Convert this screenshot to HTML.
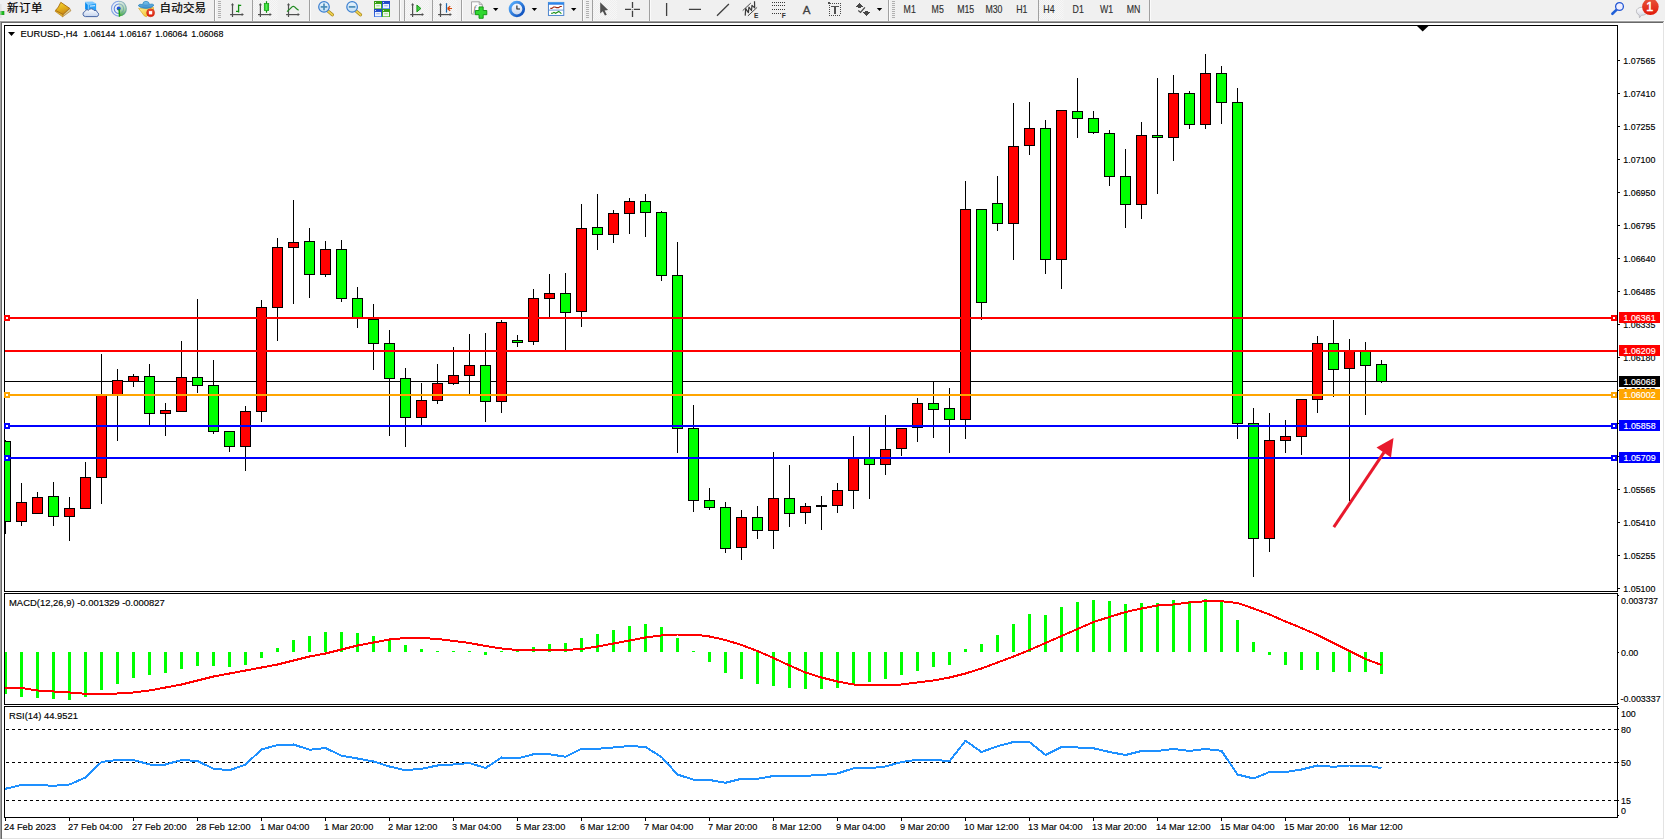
<!DOCTYPE html>
<html lang="zh"><head><meta charset="utf-8"><title>EURUSD H4</title>
<style>
html,body{margin:0;padding:0;background:#fff;}
body{width:1665px;height:840px;overflow:hidden;position:relative;font-family:"Liberation Sans","Noto Sans CJK SC",sans-serif;}
svg{position:absolute;left:0;top:0;display:block}
.t{font-family:"Liberation Sans","Noto Sans CJK SC",sans-serif;font-size:9.8px;fill:#000;stroke:#000;stroke-width:0.15px}
.cj{font-family:"Liberation Sans","Noto Sans CJK SC",sans-serif;font-size:12px;fill:#000}
.tf{font-family:"Liberation Sans","Noto Sans CJK SC",sans-serif;font-size:10px;fill:#3c3c3c}
</style></head><body>
<svg width="1665" height="840" viewBox="0 0 1665 840">

<rect x="0" y="0" width="1665" height="840" fill="#fff"/>
<rect x="0" y="0" width="1665" height="20" fill="#f0f0f0"/>
<rect x="0" y="20" width="1665" height="1" fill="#f8f8f8"/>
<rect x="0" y="21" width="1665" height="1" fill="#a0a0a0"/>
<rect x="0" y="22" width="1665" height="1" fill="#696969"/>
<rect x="0" y="21" width="1" height="819" fill="#a0a0a0"/>
<rect x="1" y="22" width="1" height="818" fill="#696969"/>
<rect x="1663" y="22" width="1" height="818" fill="#e3e3e3"/>
<rect x="1664" y="21" width="1" height="819" fill="#ffffff"/>
<rect x="2" y="838" width="1662" height="1" fill="#e3e3e3"/>
<rect x="0" y="839" width="1665" height="1" fill="#ffffff"/>
<g shape-rendering="crispEdges">
<rect x="4" y="25" width="1614" height="1" fill="#000"/>
<rect x="4" y="25" width="1" height="793" fill="#000"/>
<rect x="1617" y="25" width="1" height="793" fill="#000"/>
<rect x="4" y="591" width="1614" height="1" fill="#000"/>
<rect x="4" y="593" width="1614" height="1" fill="#000"/>
<rect x="4" y="704" width="1614" height="1" fill="#000"/>
<rect x="4" y="706" width="1614" height="1" fill="#000"/>
<rect x="4" y="817" width="1614" height="1" fill="#000"/>
<rect x="4" y="592" width="1" height="1" fill="#fff"/>
<rect x="4" y="705" width="1" height="1" fill="#fff"/>
<rect x="1617" y="592" width="1" height="1" fill="#fff"/>
<rect x="1617" y="705" width="1" height="1" fill="#fff"/>
<rect x="1618" y="595" width="1" height="1" fill="#000"/>
<rect x="1618" y="652" width="1" height="1" fill="#000"/>
<rect x="1618" y="703" width="1" height="1" fill="#000"/>
<rect x="1618" y="708" width="1" height="1" fill="#000"/>
<rect x="1618" y="729" width="1" height="1" fill="#000"/>
<rect x="1618" y="762" width="1" height="1" fill="#000"/>
<rect x="1618" y="800" width="1" height="1" fill="#000"/>
<rect x="1618" y="815" width="1" height="1" fill="#000"/>
<rect x="5" y="381" width="1612" height="1" fill="#000"/>
<clipPath id="cp"><rect x="5" y="26" width="1612" height="565"/></clipPath><g clip-path="url(#cp)">
<rect x="5" y="440" width="1" height="94" fill="#000"/>
<rect x="0" y="441" width="11" height="81" fill="#000"/>
<rect x="1" y="442" width="9" height="79" fill="#00ff00"/>
<rect x="21" y="483" width="1" height="43" fill="#000"/>
<rect x="16" y="502" width="11" height="20" fill="#000"/>
<rect x="17" y="503" width="9" height="18" fill="#ff0000"/>
<rect x="37" y="492" width="1" height="22" fill="#000"/>
<rect x="32" y="497" width="11" height="17" fill="#000"/>
<rect x="33" y="498" width="9" height="15" fill="#ff0000"/>
<rect x="53" y="482" width="1" height="44" fill="#000"/>
<rect x="48" y="496" width="11" height="21" fill="#000"/>
<rect x="49" y="497" width="9" height="19" fill="#00ff00"/>
<rect x="69" y="497" width="1" height="44" fill="#000"/>
<rect x="64" y="508" width="11" height="9" fill="#000"/>
<rect x="65" y="509" width="9" height="7" fill="#ff0000"/>
<rect x="85" y="462" width="1" height="46" fill="#000"/>
<rect x="80" y="477" width="11" height="32" fill="#000"/>
<rect x="81" y="478" width="9" height="30" fill="#ff0000"/>
<rect x="101" y="354" width="1" height="150" fill="#000"/>
<rect x="96" y="395" width="11" height="83" fill="#000"/>
<rect x="97" y="396" width="9" height="81" fill="#ff0000"/>
<rect x="117" y="369" width="1" height="72" fill="#000"/>
<rect x="112" y="380" width="11" height="15" fill="#000"/>
<rect x="113" y="381" width="9" height="13" fill="#ff0000"/>
<rect x="133" y="374" width="1" height="13" fill="#000"/>
<rect x="128" y="376" width="11" height="6" fill="#000"/>
<rect x="129" y="377" width="9" height="4" fill="#ff0000"/>
<rect x="149" y="364" width="1" height="63" fill="#000"/>
<rect x="144" y="376" width="11" height="38" fill="#000"/>
<rect x="145" y="377" width="9" height="36" fill="#00ff00"/>
<rect x="165" y="403" width="1" height="33" fill="#000"/>
<rect x="160" y="410" width="11" height="4" fill="#000"/>
<rect x="161" y="411" width="9" height="2" fill="#ff0000"/>
<rect x="181" y="341" width="1" height="70" fill="#000"/>
<rect x="176" y="377" width="11" height="35" fill="#000"/>
<rect x="177" y="378" width="9" height="33" fill="#ff0000"/>
<rect x="197" y="299" width="1" height="94" fill="#000"/>
<rect x="192" y="377" width="11" height="9" fill="#000"/>
<rect x="193" y="378" width="9" height="7" fill="#00ff00"/>
<rect x="213" y="360" width="1" height="74" fill="#000"/>
<rect x="208" y="385" width="11" height="47" fill="#000"/>
<rect x="209" y="386" width="9" height="45" fill="#00ff00"/>
<rect x="229" y="431" width="1" height="21" fill="#000"/>
<rect x="224" y="431" width="11" height="16" fill="#000"/>
<rect x="225" y="432" width="9" height="14" fill="#00ff00"/>
<rect x="245" y="406" width="1" height="65" fill="#000"/>
<rect x="240" y="411" width="11" height="36" fill="#000"/>
<rect x="241" y="412" width="9" height="34" fill="#ff0000"/>
<rect x="261" y="300" width="1" height="122" fill="#000"/>
<rect x="256" y="307" width="11" height="105" fill="#000"/>
<rect x="257" y="308" width="9" height="103" fill="#ff0000"/>
<rect x="277" y="238" width="1" height="103" fill="#000"/>
<rect x="272" y="247" width="11" height="61" fill="#000"/>
<rect x="273" y="248" width="9" height="59" fill="#ff0000"/>
<rect x="293" y="200" width="1" height="104" fill="#000"/>
<rect x="288" y="242" width="11" height="6" fill="#000"/>
<rect x="289" y="243" width="9" height="4" fill="#ff0000"/>
<rect x="309" y="228" width="1" height="70" fill="#000"/>
<rect x="304" y="241" width="11" height="34" fill="#000"/>
<rect x="305" y="242" width="9" height="32" fill="#00ff00"/>
<rect x="325" y="241" width="1" height="36" fill="#000"/>
<rect x="320" y="249" width="11" height="26" fill="#000"/>
<rect x="321" y="250" width="9" height="24" fill="#ff0000"/>
<rect x="341" y="240" width="1" height="62" fill="#000"/>
<rect x="336" y="249" width="11" height="50" fill="#000"/>
<rect x="337" y="250" width="9" height="48" fill="#00ff00"/>
<rect x="357" y="287" width="1" height="41" fill="#000"/>
<rect x="352" y="298" width="11" height="21" fill="#000"/>
<rect x="353" y="299" width="9" height="19" fill="#00ff00"/>
<rect x="373" y="304" width="1" height="66" fill="#000"/>
<rect x="368" y="319" width="11" height="25" fill="#000"/>
<rect x="369" y="320" width="9" height="23" fill="#00ff00"/>
<rect x="389" y="330" width="1" height="106" fill="#000"/>
<rect x="384" y="343" width="11" height="36" fill="#000"/>
<rect x="385" y="344" width="9" height="34" fill="#00ff00"/>
<rect x="405" y="368" width="1" height="79" fill="#000"/>
<rect x="400" y="378" width="11" height="40" fill="#000"/>
<rect x="401" y="379" width="9" height="38" fill="#00ff00"/>
<rect x="421" y="383" width="1" height="42" fill="#000"/>
<rect x="416" y="400" width="11" height="18" fill="#000"/>
<rect x="417" y="401" width="9" height="16" fill="#ff0000"/>
<rect x="437" y="364" width="1" height="40" fill="#000"/>
<rect x="432" y="383" width="11" height="18" fill="#000"/>
<rect x="433" y="384" width="9" height="16" fill="#ff0000"/>
<rect x="453" y="347" width="1" height="38" fill="#000"/>
<rect x="448" y="375" width="11" height="9" fill="#000"/>
<rect x="449" y="376" width="9" height="7" fill="#ff0000"/>
<rect x="469" y="334" width="1" height="62" fill="#000"/>
<rect x="464" y="365" width="11" height="11" fill="#000"/>
<rect x="465" y="366" width="9" height="9" fill="#ff0000"/>
<rect x="485" y="333" width="1" height="89" fill="#000"/>
<rect x="480" y="365" width="11" height="37" fill="#000"/>
<rect x="481" y="366" width="9" height="35" fill="#00ff00"/>
<rect x="501" y="320" width="1" height="93" fill="#000"/>
<rect x="496" y="322" width="11" height="80" fill="#000"/>
<rect x="497" y="323" width="9" height="78" fill="#ff0000"/>
<rect x="517" y="335" width="1" height="12" fill="#000"/>
<rect x="512" y="340" width="11" height="3" fill="#000"/>
<rect x="513" y="341" width="9" height="1" fill="#00ff00"/>
<rect x="533" y="289" width="1" height="56" fill="#000"/>
<rect x="528" y="298" width="11" height="44" fill="#000"/>
<rect x="529" y="299" width="9" height="42" fill="#ff0000"/>
<rect x="549" y="274" width="1" height="43" fill="#000"/>
<rect x="544" y="293" width="11" height="6" fill="#000"/>
<rect x="545" y="294" width="9" height="4" fill="#ff0000"/>
<rect x="565" y="273" width="1" height="77" fill="#000"/>
<rect x="560" y="293" width="11" height="20" fill="#000"/>
<rect x="561" y="294" width="9" height="18" fill="#00ff00"/>
<rect x="581" y="204" width="1" height="123" fill="#000"/>
<rect x="576" y="228" width="11" height="84" fill="#000"/>
<rect x="577" y="229" width="9" height="82" fill="#ff0000"/>
<rect x="597" y="194" width="1" height="56" fill="#000"/>
<rect x="592" y="227" width="11" height="8" fill="#000"/>
<rect x="593" y="228" width="9" height="6" fill="#00ff00"/>
<rect x="613" y="210" width="1" height="33" fill="#000"/>
<rect x="608" y="213" width="11" height="22" fill="#000"/>
<rect x="609" y="214" width="9" height="20" fill="#ff0000"/>
<rect x="629" y="198" width="1" height="36" fill="#000"/>
<rect x="624" y="201" width="11" height="13" fill="#000"/>
<rect x="625" y="202" width="9" height="11" fill="#ff0000"/>
<rect x="645" y="194" width="1" height="43" fill="#000"/>
<rect x="640" y="201" width="11" height="12" fill="#000"/>
<rect x="641" y="202" width="9" height="10" fill="#00ff00"/>
<rect x="661" y="211" width="1" height="70" fill="#000"/>
<rect x="656" y="212" width="11" height="64" fill="#000"/>
<rect x="657" y="213" width="9" height="62" fill="#00ff00"/>
<rect x="677" y="242" width="1" height="211" fill="#000"/>
<rect x="672" y="275" width="11" height="154" fill="#000"/>
<rect x="673" y="276" width="9" height="152" fill="#00ff00"/>
<rect x="693" y="405" width="1" height="107" fill="#000"/>
<rect x="688" y="428" width="11" height="73" fill="#000"/>
<rect x="689" y="429" width="9" height="71" fill="#00ff00"/>
<rect x="709" y="488" width="1" height="22" fill="#000"/>
<rect x="704" y="500" width="11" height="8" fill="#000"/>
<rect x="705" y="501" width="9" height="6" fill="#00ff00"/>
<rect x="725" y="502" width="1" height="51" fill="#000"/>
<rect x="720" y="507" width="11" height="42" fill="#000"/>
<rect x="721" y="508" width="9" height="40" fill="#00ff00"/>
<rect x="741" y="510" width="1" height="50" fill="#000"/>
<rect x="736" y="517" width="11" height="31" fill="#000"/>
<rect x="737" y="518" width="9" height="29" fill="#ff0000"/>
<rect x="757" y="506" width="1" height="33" fill="#000"/>
<rect x="752" y="517" width="11" height="14" fill="#000"/>
<rect x="753" y="518" width="9" height="12" fill="#00ff00"/>
<rect x="773" y="452" width="1" height="97" fill="#000"/>
<rect x="768" y="498" width="11" height="33" fill="#000"/>
<rect x="769" y="499" width="9" height="31" fill="#ff0000"/>
<rect x="789" y="465" width="1" height="62" fill="#000"/>
<rect x="784" y="498" width="11" height="16" fill="#000"/>
<rect x="785" y="499" width="9" height="14" fill="#00ff00"/>
<rect x="805" y="503" width="1" height="21" fill="#000"/>
<rect x="800" y="506" width="11" height="7" fill="#000"/>
<rect x="801" y="507" width="9" height="5" fill="#ff0000"/>
<rect x="821" y="496" width="1" height="34" fill="#000"/>
<rect x="816" y="505" width="11" height="2" fill="#000"/>
<rect x="837" y="483" width="1" height="30" fill="#000"/>
<rect x="832" y="490" width="11" height="16" fill="#000"/>
<rect x="833" y="491" width="9" height="14" fill="#ff0000"/>
<rect x="853" y="436" width="1" height="73" fill="#000"/>
<rect x="848" y="458" width="11" height="33" fill="#000"/>
<rect x="849" y="459" width="9" height="31" fill="#ff0000"/>
<rect x="869" y="426" width="1" height="73" fill="#000"/>
<rect x="864" y="458" width="11" height="7" fill="#000"/>
<rect x="865" y="459" width="9" height="5" fill="#00ff00"/>
<rect x="885" y="415" width="1" height="60" fill="#000"/>
<rect x="880" y="449" width="11" height="16" fill="#000"/>
<rect x="881" y="450" width="9" height="14" fill="#ff0000"/>
<rect x="901" y="428" width="1" height="28" fill="#000"/>
<rect x="896" y="428" width="11" height="21" fill="#000"/>
<rect x="897" y="429" width="9" height="19" fill="#ff0000"/>
<rect x="917" y="398" width="1" height="44" fill="#000"/>
<rect x="912" y="403" width="11" height="25" fill="#000"/>
<rect x="913" y="404" width="9" height="23" fill="#ff0000"/>
<rect x="933" y="381" width="1" height="57" fill="#000"/>
<rect x="928" y="403" width="11" height="7" fill="#000"/>
<rect x="929" y="404" width="9" height="5" fill="#00ff00"/>
<rect x="949" y="388" width="1" height="65" fill="#000"/>
<rect x="944" y="408" width="11" height="12" fill="#000"/>
<rect x="945" y="409" width="9" height="10" fill="#00ff00"/>
<rect x="965" y="181" width="1" height="258" fill="#000"/>
<rect x="960" y="209" width="11" height="211" fill="#000"/>
<rect x="961" y="210" width="9" height="209" fill="#ff0000"/>
<rect x="981" y="209" width="1" height="111" fill="#000"/>
<rect x="976" y="209" width="11" height="94" fill="#000"/>
<rect x="977" y="210" width="9" height="92" fill="#00ff00"/>
<rect x="997" y="176" width="1" height="55" fill="#000"/>
<rect x="992" y="203" width="11" height="21" fill="#000"/>
<rect x="993" y="204" width="9" height="19" fill="#00ff00"/>
<rect x="1013" y="103" width="1" height="157" fill="#000"/>
<rect x="1008" y="146" width="11" height="78" fill="#000"/>
<rect x="1009" y="147" width="9" height="76" fill="#ff0000"/>
<rect x="1029" y="102" width="1" height="53" fill="#000"/>
<rect x="1024" y="128" width="11" height="18" fill="#000"/>
<rect x="1025" y="129" width="9" height="16" fill="#ff0000"/>
<rect x="1045" y="120" width="1" height="154" fill="#000"/>
<rect x="1040" y="128" width="11" height="132" fill="#000"/>
<rect x="1041" y="129" width="9" height="130" fill="#00ff00"/>
<rect x="1061" y="110" width="1" height="179" fill="#000"/>
<rect x="1056" y="110" width="11" height="150" fill="#000"/>
<rect x="1057" y="111" width="9" height="148" fill="#ff0000"/>
<rect x="1077" y="78" width="1" height="60" fill="#000"/>
<rect x="1072" y="111" width="11" height="8" fill="#000"/>
<rect x="1073" y="112" width="9" height="6" fill="#00ff00"/>
<rect x="1093" y="111" width="1" height="23" fill="#000"/>
<rect x="1088" y="118" width="11" height="15" fill="#000"/>
<rect x="1089" y="119" width="9" height="13" fill="#00ff00"/>
<rect x="1109" y="130" width="1" height="56" fill="#000"/>
<rect x="1104" y="133" width="11" height="44" fill="#000"/>
<rect x="1105" y="134" width="9" height="42" fill="#00ff00"/>
<rect x="1125" y="149" width="1" height="79" fill="#000"/>
<rect x="1120" y="176" width="11" height="29" fill="#000"/>
<rect x="1121" y="177" width="9" height="27" fill="#00ff00"/>
<rect x="1141" y="122" width="1" height="97" fill="#000"/>
<rect x="1136" y="135" width="11" height="70" fill="#000"/>
<rect x="1137" y="136" width="9" height="68" fill="#ff0000"/>
<rect x="1157" y="78" width="1" height="116" fill="#000"/>
<rect x="1152" y="135" width="11" height="3" fill="#000"/>
<rect x="1153" y="136" width="9" height="1" fill="#00ff00"/>
<rect x="1173" y="75" width="1" height="86" fill="#000"/>
<rect x="1168" y="93" width="11" height="45" fill="#000"/>
<rect x="1169" y="94" width="9" height="43" fill="#ff0000"/>
<rect x="1189" y="91" width="1" height="38" fill="#000"/>
<rect x="1184" y="93" width="11" height="32" fill="#000"/>
<rect x="1185" y="94" width="9" height="30" fill="#00ff00"/>
<rect x="1205" y="54" width="1" height="75" fill="#000"/>
<rect x="1200" y="73" width="11" height="52" fill="#000"/>
<rect x="1201" y="74" width="9" height="50" fill="#ff0000"/>
<rect x="1221" y="66" width="1" height="58" fill="#000"/>
<rect x="1216" y="73" width="11" height="30" fill="#000"/>
<rect x="1217" y="74" width="9" height="28" fill="#00ff00"/>
<rect x="1237" y="88" width="1" height="351" fill="#000"/>
<rect x="1232" y="102" width="11" height="322" fill="#000"/>
<rect x="1233" y="103" width="9" height="320" fill="#00ff00"/>
<rect x="1253" y="408" width="1" height="169" fill="#000"/>
<rect x="1248" y="423" width="11" height="116" fill="#000"/>
<rect x="1249" y="424" width="9" height="114" fill="#00ff00"/>
<rect x="1269" y="413" width="1" height="139" fill="#000"/>
<rect x="1264" y="440" width="11" height="99" fill="#000"/>
<rect x="1265" y="441" width="9" height="97" fill="#ff0000"/>
<rect x="1285" y="420" width="1" height="33" fill="#000"/>
<rect x="1280" y="436" width="11" height="5" fill="#000"/>
<rect x="1281" y="437" width="9" height="3" fill="#ff0000"/>
<rect x="1301" y="399" width="1" height="56" fill="#000"/>
<rect x="1296" y="399" width="11" height="38" fill="#000"/>
<rect x="1297" y="400" width="9" height="36" fill="#ff0000"/>
<rect x="1317" y="336" width="1" height="77" fill="#000"/>
<rect x="1312" y="343" width="11" height="57" fill="#000"/>
<rect x="1313" y="344" width="9" height="55" fill="#ff0000"/>
<rect x="1333" y="320" width="1" height="77" fill="#000"/>
<rect x="1328" y="343" width="11" height="27" fill="#000"/>
<rect x="1329" y="344" width="9" height="25" fill="#00ff00"/>
<rect x="1349" y="339" width="1" height="162" fill="#000"/>
<rect x="1344" y="350" width="11" height="19" fill="#000"/>
<rect x="1345" y="351" width="9" height="17" fill="#ff0000"/>
<rect x="1365" y="342" width="1" height="73" fill="#000"/>
<rect x="1360" y="350" width="11" height="16" fill="#000"/>
<rect x="1361" y="351" width="9" height="14" fill="#00ff00"/>
<rect x="1381" y="360" width="1" height="23" fill="#000"/>
<rect x="1376" y="364" width="11" height="18" fill="#000"/>
<rect x="1377" y="365" width="9" height="16" fill="#00ff00"/>
</g>
<rect x="5" y="317" width="1612" height="2" fill="#ff0000"/>
<rect x="4" y="315" width="6" height="6" fill="#ff0000"/>
<rect x="6" y="317" width="2" height="2" fill="#fff"/>
<rect x="1611" y="315" width="6" height="6" fill="#ff0000"/>
<rect x="1613" y="317" width="2" height="2" fill="#fff"/>
<rect x="5" y="350" width="1612" height="2" fill="#ff0000"/>
<rect x="5" y="394" width="1612" height="2" fill="#ffa500"/>
<rect x="4" y="392" width="6" height="6" fill="#ffa500"/>
<rect x="6" y="394" width="2" height="2" fill="#fff"/>
<rect x="1611" y="392" width="6" height="6" fill="#ffa500"/>
<rect x="1613" y="394" width="2" height="2" fill="#fff"/>
<rect x="5" y="425" width="1612" height="2" fill="#0000ff"/>
<rect x="4" y="423" width="6" height="6" fill="#0000ff"/>
<rect x="6" y="425" width="2" height="2" fill="#fff"/>
<rect x="1611" y="423" width="6" height="6" fill="#0000ff"/>
<rect x="1613" y="425" width="2" height="2" fill="#fff"/>
<rect x="5" y="457" width="1612" height="2" fill="#0000ff"/>
<rect x="4" y="455" width="6" height="6" fill="#0000ff"/>
<rect x="6" y="457" width="2" height="2" fill="#fff"/>
<rect x="1611" y="455" width="6" height="6" fill="#0000ff"/>
<rect x="1613" y="457" width="2" height="2" fill="#fff"/>
</g>
<g><line x1="1333.8" y1="527.2" x2="1384" y2="452.3" stroke="#e8192c" stroke-width="3"/><polygon points="1393.5,438 1376.5,447.5 1391,457.5" fill="#e8192c"/></g>
<polygon points="1417,26 1428.5,26 1422.7,31.5" fill="#000"/>
<g shape-rendering="crispEdges">
<rect x="1618" y="60" width="2" height="1" fill="#000"/>
<rect x="1618" y="93" width="2" height="1" fill="#000"/>
<rect x="1618" y="126" width="2" height="1" fill="#000"/>
<rect x="1618" y="159" width="2" height="1" fill="#000"/>
<rect x="1618" y="192" width="2" height="1" fill="#000"/>
<rect x="1618" y="225" width="2" height="1" fill="#000"/>
<rect x="1618" y="258" width="2" height="1" fill="#000"/>
<rect x="1618" y="291" width="2" height="1" fill="#000"/>
<rect x="1618" y="324" width="2" height="1" fill="#000"/>
<rect x="1618" y="357" width="2" height="1" fill="#000"/>
<rect x="1618" y="390" width="2" height="1" fill="#000"/>
<rect x="1618" y="423" width="2" height="1" fill="#000"/>
<rect x="1618" y="456" width="2" height="1" fill="#000"/>
<rect x="1618" y="489" width="2" height="1" fill="#000"/>
<rect x="1618" y="522" width="2" height="1" fill="#000"/>
<rect x="1618" y="555" width="2" height="1" fill="#000"/>
<rect x="1618" y="588" width="2" height="1" fill="#000"/>
</g>
<text class="t" transform="translate(1623.3,63.6) scale(0.9061,1)">1.07565</text>
<text class="t" transform="translate(1623.3,96.6) scale(0.9061,1)">1.07410</text>
<text class="t" transform="translate(1623.3,129.6) scale(0.9061,1)">1.07255</text>
<text class="t" transform="translate(1623.3,162.6) scale(0.9061,1)">1.07100</text>
<text class="t" transform="translate(1623.3,195.6) scale(0.9061,1)">1.06950</text>
<text class="t" transform="translate(1623.3,228.6) scale(0.9061,1)">1.06795</text>
<text class="t" transform="translate(1623.3,261.6) scale(0.9061,1)">1.06640</text>
<text class="t" transform="translate(1623.3,294.6) scale(0.9061,1)">1.06485</text>
<text class="t" transform="translate(1623.3,327.6) scale(0.9061,1)">1.06335</text>
<text class="t" transform="translate(1623.3,360.6) scale(0.9061,1)">1.06180</text>
<text class="t" transform="translate(1623.3,393.6) scale(0.9061,1)">1.06025</text>
<text class="t" transform="translate(1623.3,426.6) scale(0.9061,1)">1.05870</text>
<text class="t" transform="translate(1623.3,459.6) scale(0.9061,1)">1.05715</text>
<text class="t" transform="translate(1623.3,492.6) scale(0.9061,1)">1.05565</text>
<text class="t" transform="translate(1623.3,525.6) scale(0.9061,1)">1.05410</text>
<text class="t" transform="translate(1623.3,558.6) scale(0.9061,1)">1.05255</text>
<text class="t" transform="translate(1623.3,591.6) scale(0.9061,1)">1.05100</text>
<rect x="1619" y="312" width="41" height="11" fill="#ff0000" shape-rendering="crispEdges"/>
<text class="t" transform="translate(1623.5,320.7) scale(0.9061,1)" style="fill:#fff;stroke:#fff">1.06361</text>
<rect x="1619" y="345" width="41" height="11" fill="#ff0000" shape-rendering="crispEdges"/>
<text class="t" transform="translate(1623.5,353.7) scale(0.9061,1)" style="fill:#fff;stroke:#fff">1.06209</text>
<rect x="1619" y="376" width="41" height="11" fill="#000000" shape-rendering="crispEdges"/>
<text class="t" transform="translate(1623.5,384.7) scale(0.9061,1)" style="fill:#fff;stroke:#fff">1.06068</text>
<rect x="1619" y="389" width="41" height="11" fill="#ffa500" shape-rendering="crispEdges"/>
<text class="t" transform="translate(1623.5,397.7) scale(0.9061,1)" style="fill:#fff;stroke:#fff">1.06002</text>
<rect x="1619" y="420" width="41" height="11" fill="#0000ff" shape-rendering="crispEdges"/>
<text class="t" transform="translate(1623.5,428.7) scale(0.9061,1)" style="fill:#fff;stroke:#fff">1.05858</text>
<rect x="1619" y="452" width="41" height="11" fill="#0000ff" shape-rendering="crispEdges"/>
<text class="t" transform="translate(1623.5,460.7) scale(0.9061,1)" style="fill:#fff;stroke:#fff">1.05709</text>
<polygon points="8,32 15,32 11.5,36" fill="#000"/>
<text class="t" transform="translate(20.5,36.8) scale(0.9551,1)">EURUSD-,H4</text>
<text class="t" transform="translate(83.3,36.8) scale(0.9061,1)">1.06144</text>
<text class="t" transform="translate(119.3,36.8) scale(0.9061,1)">1.06167</text>
<text class="t" transform="translate(155.3,36.8) scale(0.9061,1)">1.06064</text>
<text class="t" transform="translate(191.3,36.8) scale(0.9061,1)">1.06068</text>
<g shape-rendering="crispEdges">
<rect x="5" y="652" width="2" height="42" fill="#00ff00"/>
<rect x="20" y="652" width="3" height="45" fill="#00ff00"/>
<rect x="36" y="652" width="3" height="46" fill="#00ff00"/>
<rect x="52" y="652" width="3" height="47" fill="#00ff00"/>
<rect x="68" y="652" width="3" height="48" fill="#00ff00"/>
<rect x="84" y="652" width="3" height="45" fill="#00ff00"/>
<rect x="100" y="652" width="3" height="38" fill="#00ff00"/>
<rect x="116" y="652" width="3" height="32" fill="#00ff00"/>
<rect x="132" y="652" width="3" height="26" fill="#00ff00"/>
<rect x="148" y="652" width="3" height="23" fill="#00ff00"/>
<rect x="164" y="652" width="3" height="21" fill="#00ff00"/>
<rect x="180" y="652" width="3" height="17" fill="#00ff00"/>
<rect x="196" y="652" width="3" height="14" fill="#00ff00"/>
<rect x="212" y="652" width="3" height="14" fill="#00ff00"/>
<rect x="228" y="652" width="3" height="15" fill="#00ff00"/>
<rect x="244" y="652" width="3" height="13" fill="#00ff00"/>
<rect x="260" y="652" width="3" height="6" fill="#00ff00"/>
<rect x="276" y="648" width="3" height="4" fill="#00ff00"/>
<rect x="292" y="640" width="3" height="12" fill="#00ff00"/>
<rect x="308" y="636" width="3" height="16" fill="#00ff00"/>
<rect x="324" y="632" width="3" height="20" fill="#00ff00"/>
<rect x="340" y="632" width="3" height="20" fill="#00ff00"/>
<rect x="356" y="633" width="3" height="19" fill="#00ff00"/>
<rect x="372" y="636" width="3" height="16" fill="#00ff00"/>
<rect x="388" y="640" width="3" height="12" fill="#00ff00"/>
<rect x="404" y="645" width="3" height="7" fill="#00ff00"/>
<rect x="420" y="649" width="3" height="3" fill="#00ff00"/>
<rect x="436" y="651" width="3" height="1" fill="#00ff00"/>
<rect x="452" y="651" width="3" height="1" fill="#00ff00"/>
<rect x="468" y="651" width="3" height="1" fill="#00ff00"/>
<rect x="484" y="652" width="3" height="3" fill="#00ff00"/>
<rect x="500" y="651" width="3" height="1" fill="#00ff00"/>
<rect x="516" y="650" width="3" height="2" fill="#00ff00"/>
<rect x="532" y="647" width="3" height="5" fill="#00ff00"/>
<rect x="548" y="644" width="3" height="8" fill="#00ff00"/>
<rect x="564" y="643" width="3" height="9" fill="#00ff00"/>
<rect x="580" y="638" width="3" height="14" fill="#00ff00"/>
<rect x="596" y="634" width="3" height="18" fill="#00ff00"/>
<rect x="612" y="630" width="3" height="22" fill="#00ff00"/>
<rect x="628" y="626" width="3" height="26" fill="#00ff00"/>
<rect x="644" y="624" width="3" height="28" fill="#00ff00"/>
<rect x="660" y="627" width="3" height="25" fill="#00ff00"/>
<rect x="676" y="638" width="3" height="14" fill="#00ff00"/>
<rect x="692" y="651" width="3" height="1" fill="#00ff00"/>
<rect x="708" y="652" width="3" height="10" fill="#00ff00"/>
<rect x="724" y="652" width="3" height="21" fill="#00ff00"/>
<rect x="740" y="652" width="3" height="27" fill="#00ff00"/>
<rect x="756" y="652" width="3" height="32" fill="#00ff00"/>
<rect x="772" y="652" width="3" height="34" fill="#00ff00"/>
<rect x="788" y="652" width="3" height="36" fill="#00ff00"/>
<rect x="804" y="652" width="3" height="37" fill="#00ff00"/>
<rect x="820" y="652" width="3" height="37" fill="#00ff00"/>
<rect x="836" y="652" width="3" height="36" fill="#00ff00"/>
<rect x="852" y="652" width="3" height="32" fill="#00ff00"/>
<rect x="868" y="652" width="3" height="30" fill="#00ff00"/>
<rect x="884" y="652" width="3" height="27" fill="#00ff00"/>
<rect x="900" y="652" width="3" height="23" fill="#00ff00"/>
<rect x="916" y="652" width="3" height="19" fill="#00ff00"/>
<rect x="932" y="652" width="3" height="15" fill="#00ff00"/>
<rect x="948" y="652" width="3" height="13" fill="#00ff00"/>
<rect x="964" y="649" width="3" height="3" fill="#00ff00"/>
<rect x="980" y="644" width="3" height="8" fill="#00ff00"/>
<rect x="996" y="635" width="3" height="17" fill="#00ff00"/>
<rect x="1012" y="624" width="3" height="28" fill="#00ff00"/>
<rect x="1028" y="614" width="3" height="38" fill="#00ff00"/>
<rect x="1044" y="615" width="3" height="37" fill="#00ff00"/>
<rect x="1060" y="607" width="3" height="45" fill="#00ff00"/>
<rect x="1076" y="602" width="3" height="50" fill="#00ff00"/>
<rect x="1092" y="600" width="3" height="52" fill="#00ff00"/>
<rect x="1108" y="601" width="3" height="51" fill="#00ff00"/>
<rect x="1124" y="604" width="3" height="48" fill="#00ff00"/>
<rect x="1140" y="603" width="3" height="49" fill="#00ff00"/>
<rect x="1156" y="603" width="3" height="49" fill="#00ff00"/>
<rect x="1172" y="600" width="3" height="52" fill="#00ff00"/>
<rect x="1188" y="601" width="3" height="51" fill="#00ff00"/>
<rect x="1204" y="599" width="3" height="53" fill="#00ff00"/>
<rect x="1220" y="600" width="3" height="52" fill="#00ff00"/>
<rect x="1236" y="620" width="3" height="32" fill="#00ff00"/>
<rect x="1252" y="642" width="3" height="10" fill="#00ff00"/>
<rect x="1268" y="652" width="3" height="3" fill="#00ff00"/>
<rect x="1284" y="652" width="3" height="13" fill="#00ff00"/>
<rect x="1300" y="652" width="3" height="18" fill="#00ff00"/>
<rect x="1316" y="652" width="3" height="18" fill="#00ff00"/>
<rect x="1332" y="652" width="3" height="20" fill="#00ff00"/>
<rect x="1348" y="652" width="3" height="20" fill="#00ff00"/>
<rect x="1364" y="652" width="3" height="20" fill="#00ff00"/>
<rect x="1380" y="652" width="3" height="22" fill="#00ff00"/>
</g>
<polyline points="5,688 5.5,688 21.5,688 37.5,690.5 53.5,691.5 69.5,692.5 85.5,693.75 101.5,693.75 117.5,693.5 133.5,692.5 149.5,690.5 165.5,687.5 181.5,684.5 197.5,680.5 213.5,676.5 229.5,673.5 245.5,670.5 261.5,667.5 277.5,664.5 293.5,660.5 309.5,656.5 325.5,653.5 341.5,649.5 357.5,645.5 373.5,642.5 389.5,639.5 405.5,638 421.5,638 437.5,639 453.5,641 469.5,643 485.5,646 501.5,648.5 517.5,650 533.5,650 549.5,650 565.5,650 581.5,649 597.5,646.5 613.5,643.5 629.5,640.5 645.5,637.5 661.5,635.5 677.5,634.5 693.5,634.5 709.5,636.5 725.5,640 741.5,645 757.5,651 773.5,658 789.5,665.5 805.5,672.5 821.5,677.5 837.5,681.5 853.5,684.5 869.5,685 885.5,685 901.5,684.5 917.5,682.5 933.5,680.5 949.5,677.5 965.5,673.5 981.5,668.5 997.5,662.5 1013.5,656.5 1029.5,650 1045.5,643 1061.5,636 1077.5,629 1093.5,622 1109.5,617 1125.5,612 1141.5,608.5 1157.5,605.5 1173.5,604.5 1189.5,602.5 1205.5,601.25 1221.5,601.25 1237.5,603 1253.5,608.5 1269.5,614.5 1285.5,621.5 1301.5,628 1317.5,635 1333.5,643 1349.5,651 1365.5,659 1381.5,665" fill="none" stroke="#ff0000" stroke-width="2" stroke-linejoin="round" shape-rendering="crispEdges"/>
<text class="t" transform="translate(9,606) scale(0.9639,1)">MACD(12,26,9) -0.001329 -0.000827</text>
<text class="t" transform="translate(1621,603.6) scale(0.9061,1)">0.003737</text>
<text class="t" transform="translate(1621,655.6) scale(0.9061,1)">0.00</text>
<text class="t" transform="translate(1620.6,701.6) scale(0.9061,1)">-0.003337</text>
<line x1="6" y1="729.5" x2="1617" y2="729.5" stroke="#000" stroke-width="1" stroke-dasharray="3,3" shape-rendering="crispEdges"/>
<line x1="6" y1="762.5" x2="1617" y2="762.5" stroke="#000" stroke-width="1" stroke-dasharray="3,3" shape-rendering="crispEdges"/>
<line x1="6" y1="800.5" x2="1617" y2="800.5" stroke="#000" stroke-width="1" stroke-dasharray="3,3" shape-rendering="crispEdges"/>
<polyline points="5,789.05 5.5,788.75 21.5,785 37.5,785 53.5,785.75 69.5,784.5 85.5,777.5 101.5,762 117.5,760 133.5,760 149.5,764.5 165.5,764.5 181.5,760 197.5,761 213.5,768.75 229.5,770.25 245.5,764.5 261.5,749.5 277.5,745 293.5,744.5 309.5,749.75 325.5,748 341.5,755.75 357.5,758.5 373.5,761.5 389.5,766.5 405.5,770.25 421.5,768.75 437.5,765.5 453.5,764.5 469.5,763 485.5,768 501.5,757.5 517.5,758.5 533.5,754.25 549.5,754.25 565.5,756.75 581.5,748.75 597.5,748.75 613.5,747.5 629.5,746 645.5,747 661.5,757 677.5,774.5 693.5,779.75 709.5,780 725.5,782.75 741.5,778.75 757.5,778.75 773.5,776 789.5,776 805.5,775.75 821.5,775 837.5,773.5 853.5,768.25 869.5,768.25 885.5,766.5 901.5,762 917.5,759.75 933.5,759.75 949.5,761.25 965.5,740.75 981.5,752 997.5,746.25 1013.5,742 1029.5,742 1045.5,755 1061.5,747 1077.5,747.5 1093.5,748.25 1109.5,752 1125.5,755 1141.5,751 1157.5,751 1173.5,749 1189.5,751 1205.5,749 1221.5,750.75 1237.5,774.5 1253.5,778.5 1269.5,772 1285.5,772 1301.5,769.5 1317.5,765.5 1333.5,766.75 1349.5,765.5 1365.5,765.5 1381.5,768" fill="none" stroke="#1e90ff" stroke-width="2" stroke-linejoin="round" shape-rendering="crispEdges"/>
<text class="t" transform="translate(9,719) scale(0.959,1)">RSI(14) 44.9521</text>
<text class="t" transform="translate(1621,716.6) scale(0.9061,1)">100</text>
<text class="t" transform="translate(1621,732.6) scale(0.9061,1)">80</text>
<text class="t" transform="translate(1621,765.6) scale(0.9061,1)">50</text>
<text class="t" transform="translate(1621,803.6) scale(0.9061,1)">15</text>
<text class="t" transform="translate(1621,813.6) scale(0.9061,1)">0</text>
<g shape-rendering="crispEdges">
<rect x="5" y="818" width="1" height="3" fill="#000"/>
<rect x="69" y="818" width="1" height="3" fill="#000"/>
<rect x="133" y="818" width="1" height="3" fill="#000"/>
<rect x="197" y="818" width="1" height="3" fill="#000"/>
<rect x="261" y="818" width="1" height="3" fill="#000"/>
<rect x="325" y="818" width="1" height="3" fill="#000"/>
<rect x="389" y="818" width="1" height="3" fill="#000"/>
<rect x="453" y="818" width="1" height="3" fill="#000"/>
<rect x="517" y="818" width="1" height="3" fill="#000"/>
<rect x="581" y="818" width="1" height="3" fill="#000"/>
<rect x="645" y="818" width="1" height="3" fill="#000"/>
<rect x="709" y="818" width="1" height="3" fill="#000"/>
<rect x="773" y="818" width="1" height="3" fill="#000"/>
<rect x="837" y="818" width="1" height="3" fill="#000"/>
<rect x="901" y="818" width="1" height="3" fill="#000"/>
<rect x="965" y="818" width="1" height="3" fill="#000"/>
<rect x="1029" y="818" width="1" height="3" fill="#000"/>
<rect x="1093" y="818" width="1" height="3" fill="#000"/>
<rect x="1157" y="818" width="1" height="3" fill="#000"/>
<rect x="1221" y="818" width="1" height="3" fill="#000"/>
<rect x="1285" y="818" width="1" height="3" fill="#000"/>
<rect x="1349" y="818" width="1" height="3" fill="#000"/>
</g>
<text class="t" transform="translate(4.1,830) scale(0.9438,1)">24 Feb 2023</text>
<text class="t" transform="translate(68.1,830) scale(0.9438,1)">27 Feb 04:00</text>
<text class="t" transform="translate(132.1,830) scale(0.9438,1)">27 Feb 20:00</text>
<text class="t" transform="translate(196.1,830) scale(0.9438,1)">28 Feb 12:00</text>
<text class="t" transform="translate(260.1,830) scale(0.9438,1)">1 Mar 04:00</text>
<text class="t" transform="translate(324.1,830) scale(0.9438,1)">1 Mar 20:00</text>
<text class="t" transform="translate(388.1,830) scale(0.9438,1)">2 Mar 12:00</text>
<text class="t" transform="translate(452.1,830) scale(0.9438,1)">3 Mar 04:00</text>
<text class="t" transform="translate(516.1,830) scale(0.9438,1)">5 Mar 23:00</text>
<text class="t" transform="translate(580.1,830) scale(0.9438,1)">6 Mar 12:00</text>
<text class="t" transform="translate(644.1,830) scale(0.9438,1)">7 Mar 04:00</text>
<text class="t" transform="translate(708.1,830) scale(0.9438,1)">7 Mar 20:00</text>
<text class="t" transform="translate(772.1,830) scale(0.9438,1)">8 Mar 12:00</text>
<text class="t" transform="translate(836.1,830) scale(0.9438,1)">9 Mar 04:00</text>
<text class="t" transform="translate(900.1,830) scale(0.9438,1)">9 Mar 20:00</text>
<text class="t" transform="translate(964.1,830) scale(0.9438,1)">10 Mar 12:00</text>
<text class="t" transform="translate(1028.1,830) scale(0.9438,1)">13 Mar 04:00</text>
<text class="t" transform="translate(1092.1,830) scale(0.9438,1)">13 Mar 20:00</text>
<text class="t" transform="translate(1156.1,830) scale(0.9438,1)">14 Mar 12:00</text>
<text class="t" transform="translate(1220.1,830) scale(0.9438,1)">15 Mar 04:00</text>
<text class="t" transform="translate(1284.1,830) scale(0.9438,1)">15 Mar 20:00</text>
<text class="t" transform="translate(1348.1,830) scale(0.9438,1)">16 Mar 12:00</text>
<g opacity="0.999"><defs><linearGradient id="gGold" x1="0" y1="0" x2="0.4" y2="1"><stop offset="0" stop-color="#f7dc3a"/><stop offset="0.6" stop-color="#e2ae18"/><stop offset="1" stop-color="#c98a1a"/></linearGradient><linearGradient id="gBlue" x1="0" y1="0" x2="0" y2="1"><stop offset="0" stop-color="#4aa8ff"/><stop offset="1" stop-color="#0a62d8"/></linearGradient><linearGradient id="gCloud" x1="0" y1="0" x2="0" y2="1"><stop offset="0" stop-color="#ffffff"/><stop offset="1" stop-color="#c5d4ee"/></linearGradient><linearGradient id="gHat" x1="0" y1="0" x2="0" y2="1"><stop offset="0" stop-color="#7cc4ee"/><stop offset="1" stop-color="#3a8ccc"/></linearGradient><linearGradient id="gFace" x1="0" y1="0" x2="1" y2="1"><stop offset="0" stop-color="#fff29a"/><stop offset="1" stop-color="#f0b818"/></linearGradient><linearGradient id="gRed" x1="0" y1="0" x2="0" y2="1"><stop offset="0" stop-color="#e8573a"/><stop offset="1" stop-color="#e01808"/></linearGradient><linearGradient id="gGreen" x1="0" y1="0" x2="1" y2="0"><stop offset="0" stop-color="#18c818"/><stop offset="0.5" stop-color="#58f058"/><stop offset="1" stop-color="#10b010"/></linearGradient><linearGradient id="gLens" x1="0" y1="0" x2="0" y2="1"><stop offset="0" stop-color="#e8f4fc"/><stop offset="1" stop-color="#c2def4"/></linearGradient><linearGradient id="gClock" x1="0" y1="0" x2="1" y2="1"><stop offset="0" stop-color="#58b0ff"/><stop offset="1" stop-color="#0848b8"/></linearGradient><linearGradient id="gSq1" x1="0" y1="0" x2="0" y2="1"><stop offset="0" stop-color="#2f9a10"/><stop offset="1" stop-color="#52b428"/></linearGradient><linearGradient id="gSq2" x1="0" y1="0" x2="0" y2="1"><stop offset="0" stop-color="#1c40c0"/><stop offset="1" stop-color="#3c78e8"/></linearGradient><linearGradient id="gBub" x1="0" y1="0" x2="0" y2="1"><stop offset="0" stop-color="#ffffff"/><stop offset="1" stop-color="#cfd2e0"/></linearGradient><pattern id="chk" width="2" height="2" patternUnits="userSpaceOnUse"><rect width="2" height="2" fill="#f7f7f7"/><rect width="1" height="1" fill="#eeeeee"/><rect x="1" y="1" width="1" height="1" fill="#eeeeee"/></pattern><linearGradient id="gSweep" x1="0" y1="0" x2="0" y2="1"><stop offset="0" stop-color="#b8d8b8" stop-opacity="0.25"/><stop offset="0.55" stop-color="#78c078" stop-opacity="0.6"/><stop offset="1" stop-color="#30a030" stop-opacity="0.95"/></linearGradient></defs>
<rect x="-1" y="11.4" width="5" height="3.3" fill="#1cc81c" stroke="#0c8c0c" stroke-width="0.6"/><rect x="0" y="4" width="1.5" height="14" fill="#d8d8d8" opacity="0.6"/>
<text x="7" y="12.4" style="font-family:'Liberation Sans','Noto Sans CJK SC',sans-serif;font-size:11.5px;letter-spacing:0.5px;fill:#000;stroke:#000;stroke-width:0.2px">新订单</text>
<polygon points="69.6,8.3 70.9,10.8 62.6,16.8 62.9,14.4" fill="#d8c890" stroke="#a87018" stroke-width="0.6" stroke-linejoin="round"/>
<polygon points="55.6,10.4 63,14.5 62.6,16.8 55,11.2" fill="#e6b830" stroke="#b07818" stroke-width="0.6" stroke-linejoin="round"/>
<path d="M60.8,2.3 L69.6,8.3 L63,14.5 L55.6,10.4 Q58.6,7.6 60.8,2.3 Z" fill="url(#gGold)" stroke="#a86c10" stroke-width="0.9" stroke-linejoin="round"/>
<polygon points="85.1,1.8 92.5,1.4 96.1,3.6 88.2,4.7" fill="#7cc8ff"/>
<polygon points="85.1,1.8 88.2,4.7 88.2,10.3 85.1,9.4" fill="#0a8cf0"/>
<polygon points="88.2,4.7 96.1,3.6 96.1,9.9 88.2,10.3" fill="#2aa2f8"/>
<path d="M88.2,4.7 L85.1,1.8 M88.2,4.7 V10" stroke="#d8f0ff" stroke-width="0.5" fill="none"/>
<path d="M90,6.1 L95,5.7" stroke="#ffffff" stroke-width="0.9"/>
<path d="M85.4,16.6 a2.6,2.6 0 0 1 -0.5,-5.1 a2.4,2.4 0 0 1 3.6,-1.3 a3.3,3.3 0 0 1 5.6,0.3 a2.4,2.4 0 0 1 3.2,1.8 a2.3,2.3 0 0 1 -0.4,4.3 z" fill="url(#gCloud)" stroke="#3f5fa0" stroke-width="0.95"/>
<circle cx="118.9" cy="8.7" r="7.6" fill="#e6eef6" opacity="0.7"/>
<path d="M118.9,8.7 L118.9,1.1 A7.6,7.6 0 0 1 119.4,16.3 Z" fill="url(#gSweep)"/>
<g fill="none" stroke-width="1.1"><path d="M118.9,13.4 A4.7,4.7 0 0 1 118.9,4" stroke="#4a74dc" opacity="0.85"/><path d="M118.9,16.1 A7.4,7.4 0 0 1 118.9,1.3" stroke="#5a84e0" opacity="0.7"/><path d="M118.9,4 A4.7,4.7 0 0 1 121.5,12.6" stroke="#5890a8" opacity="0.55"/><path d="M118.9,1.3 A7.4,7.4 0 0 1 122.5,15.1" stroke="#4c88a0" opacity="0.55"/></g><circle cx="118.7" cy="8.6" r="2" fill="#2454d4"/><path d="M119.1,9 L119.5,16.7" stroke="#18a018" stroke-width="1.4"/>
<polygon points="138.6,8.3 153.3,7.2 153.6,9.4 146.4,16.7 144.3,15.9" fill="url(#gFace)" stroke="#d09818" stroke-width="0.6" stroke-linejoin="round"/>
<path d="M138.2,5.6 Q139.5,3.4 142.6,4.6 Q143,1.2 146,1.3 Q149,1.3 149.5,4.4 Q152.6,3.2 154,5.2 Q152,8.2 146.2,8.4 Q140.2,8.4 138.2,5.6 Z" fill="url(#gHat)" stroke="#2a84bc" stroke-width="0.7"/>
<path d="M142.6,4.8 Q146,6.4 149.5,4.6" stroke="#2a84bc" stroke-width="0.5" fill="none" opacity="0.7"/>
<circle cx="150.6" cy="12.8" r="4" fill="url(#gRed)" stroke="#c02408" stroke-width="0.5"/><rect x="148.9" y="11.1" width="3.3" height="3.3" fill="#fff"/>
<text x="159.5" y="12.4" style="font-family:'Liberation Sans','Noto Sans CJK SC',sans-serif;font-size:11.5px;letter-spacing:0.2px;fill:#000;stroke:#000;stroke-width:0.2px">自动交易</text>
<rect x="214" y="0" width="1" height="21" fill="#a0a0a0" shape-rendering="crispEdges"/><rect x="215" y="0" width="1" height="21" fill="#fbfbfb" shape-rendering="crispEdges"/>
<rect x="218" y="1" width="3" height="1" fill="#b0b0b0" shape-rendering="crispEdges"/>
<rect x="218" y="3" width="3" height="1" fill="#b0b0b0" shape-rendering="crispEdges"/>
<rect x="218" y="5" width="3" height="1" fill="#b0b0b0" shape-rendering="crispEdges"/>
<rect x="218" y="7" width="3" height="1" fill="#b0b0b0" shape-rendering="crispEdges"/>
<rect x="218" y="9" width="3" height="1" fill="#b0b0b0" shape-rendering="crispEdges"/>
<rect x="218" y="11" width="3" height="1" fill="#b0b0b0" shape-rendering="crispEdges"/>
<rect x="218" y="13" width="3" height="1" fill="#b0b0b0" shape-rendering="crispEdges"/>
<rect x="218" y="15" width="3" height="1" fill="#b0b0b0" shape-rendering="crispEdges"/>
<rect x="218" y="17" width="3" height="1" fill="#b0b0b0" shape-rendering="crispEdges"/>
<g stroke="#505050" stroke-width="1.2" fill="#505050"><line x1="232.5" y1="4" x2="232.5" y2="17"/><line x1="230.1" y1="14.6" x2="242.5" y2="14.6"/><polygon points="232.5,3 231.0,5.2 234.0,5.2" stroke="none"/><polygon points="243.9,14.6 241.7,13.1 241.7,16.1" stroke="none"/></g>
<g stroke="#109010" stroke-width="1.3" fill="none"><path d="M238.6,4.5 V12.6 M238.6,5.4 H241.2 M238.6,11.4 H236"/></g>
<rect x="252" y="0" width="1" height="21" fill="#a0a0a0" shape-rendering="crispEdges"/><rect x="253" y="0" width="1" height="21" fill="#fbfbfb" shape-rendering="crispEdges"/>
<rect x="253" y="0" width="24.5" height="19" fill="url(#chk)"/>
<g stroke="#505050" stroke-width="1.2" fill="#505050"><line x1="260.4" y1="4" x2="260.4" y2="17"/><line x1="258.0" y1="14.6" x2="270.4" y2="14.6"/><polygon points="260.4,3 258.9,5.2 261.9,5.2" stroke="none"/><polygon points="271.79999999999995,14.6 269.59999999999997,13.1 269.59999999999997,16.1" stroke="none"/></g>
<line x1="266.5" y1="1.2" x2="266.5" y2="12.8" stroke="#109010" stroke-width="1.2"/><rect x="264.3" y="3.6" width="4.4" height="7" fill="url(#gGreen)" stroke="#10a010" stroke-width="0.7"/>
<g stroke="#505050" stroke-width="1.2" fill="#505050"><line x1="288.5" y1="4" x2="288.5" y2="17"/><line x1="286.1" y1="14.6" x2="298.5" y2="14.6"/><polygon points="288.5,3 287.0,5.2 290.0,5.2" stroke="none"/><polygon points="299.9,14.6 297.7,13.1 297.7,16.1" stroke="none"/></g>
<path d="M287,11.6 Q290.5,8.6 292,6.9 Q293.3,5.8 294.6,6.9 Q296.5,9 298.6,10.2" stroke="#208a20" stroke-width="1.2" fill="none"/>
<rect x="309" y="0" width="1" height="21" fill="#a0a0a0" shape-rendering="crispEdges"/><rect x="310" y="0" width="1" height="21" fill="#fbfbfb" shape-rendering="crispEdges"/>
<line x1="327.8" y1="10.9" x2="332.4" y2="14.8" stroke="#a88418" stroke-width="3.2" stroke-linecap="round"/><line x1="327.8" y1="10.9" x2="332.4" y2="14.8" stroke="#ecd050" stroke-width="1.8" stroke-linecap="round"/><circle cx="324" cy="6.9" r="5.3" fill="url(#gLens)" stroke="#3b7fd0" stroke-width="1.2"/><line x1="320.7" y1="6.9" x2="327.3" y2="6.9" stroke="#4a8cb8" stroke-width="1.7"/>
<line x1="324" y1="3.6" x2="324" y2="10.2" stroke="#4a8cb8" stroke-width="1.7"/>
<line x1="355.90000000000003" y1="10.9" x2="360.5" y2="14.8" stroke="#a88418" stroke-width="3.2" stroke-linecap="round"/><line x1="355.90000000000003" y1="10.9" x2="360.5" y2="14.8" stroke="#ecd050" stroke-width="1.8" stroke-linecap="round"/><circle cx="352.1" cy="6.9" r="5.3" fill="url(#gLens)" stroke="#3b7fd0" stroke-width="1.2"/><line x1="348.8" y1="6.9" x2="355.40000000000003" y2="6.9" stroke="#4a8cb8" stroke-width="1.7"/>
<rect x="374" y="1" width="8" height="8" fill="url(#gSq1)"/><rect x="375" y="4" width="6" height="4.3" fill="#fff" opacity="0.92"/><rect x="376.2" y="5.3" width="3.6" height="1" fill="url(#gSq1)" opacity="0.45"/><rect x="375" y="2" width="1" height="1" fill="#fff" opacity="0.8"/>
<rect x="382" y="1" width="8" height="8" fill="url(#gSq2)"/><rect x="383" y="4" width="6" height="4.3" fill="#fff" opacity="0.92"/><rect x="384.2" y="5.3" width="3.6" height="1" fill="url(#gSq2)" opacity="0.45"/><rect x="383" y="2" width="1" height="1" fill="#fff" opacity="0.8"/>
<rect x="374" y="9" width="8" height="8" fill="url(#gSq2)"/><rect x="375" y="12" width="6" height="4.3" fill="#fff" opacity="0.92"/><rect x="376.2" y="13.3" width="3.6" height="1" fill="url(#gSq2)" opacity="0.45"/><rect x="375" y="10" width="1" height="1" fill="#fff" opacity="0.8"/>
<rect x="382" y="9" width="8" height="8" fill="url(#gSq1)"/><rect x="383" y="12" width="6" height="4.3" fill="#fff" opacity="0.92"/><rect x="384.2" y="13.3" width="3.6" height="1" fill="url(#gSq1)" opacity="0.45"/><rect x="383" y="10" width="1" height="1" fill="#fff" opacity="0.8"/>
<rect x="399" y="0" width="1" height="21" fill="#a0a0a0" shape-rendering="crispEdges"/><rect x="400" y="0" width="1" height="21" fill="#fbfbfb" shape-rendering="crispEdges"/>
<rect x="404" y="0" width="1" height="21" fill="#a0a0a0" shape-rendering="crispEdges"/><rect x="405" y="0" width="1" height="21" fill="#fbfbfb" shape-rendering="crispEdges"/>
<rect x="405" y="0" width="24" height="19" fill="url(#chk)"/>
<g stroke="#505050" stroke-width="1.2" fill="#505050"><line x1="412.6" y1="4" x2="412.6" y2="17"/><line x1="410.20000000000005" y1="14.6" x2="422.6" y2="14.6"/><polygon points="412.6,3 411.1,5.2 414.1,5.2" stroke="none"/><polygon points="424.0,14.6 421.8,13.1 421.8,16.1" stroke="none"/></g>
<polygon points="416.9,5 416.9,11.9 420.9,8.5" fill="#40d040" stroke="#109010" stroke-width="0.9"/>
<rect x="432" y="0" width="1" height="21" fill="#a0a0a0" shape-rendering="crispEdges"/><rect x="433" y="0" width="1" height="21" fill="#fbfbfb" shape-rendering="crispEdges"/>
<rect x="433" y="0" width="24" height="19" fill="url(#chk)"/>
<g stroke="#505050" stroke-width="1.2" fill="#505050"><line x1="440.5" y1="4" x2="440.5" y2="17"/><line x1="438.1" y1="14.6" x2="450.5" y2="14.6"/><polygon points="440.5,3 439.0,5.2 442.0,5.2" stroke="none"/><polygon points="451.9,14.6 449.7,13.1 449.7,16.1" stroke="none"/></g>
<line x1="446.5" y1="3.2" x2="446.5" y2="12.6" stroke="#1868b0" stroke-width="1.2"/><path d="M447.4,8.5 H452 M447.4,8.5 L450.2,6.3 M447.4,8.5 L450.2,10.7" stroke="#d84808" stroke-width="1.2" fill="none"/>
<rect x="461" y="0" width="1" height="21" fill="#a0a0a0" shape-rendering="crispEdges"/><rect x="462" y="0" width="1" height="21" fill="#fbfbfb" shape-rendering="crispEdges"/>
<path d="M471.5,1.8 H479.2 L482.3,4.6 V14 H471.5 Z" fill="#fcfcfc" stroke="#909090" stroke-width="0.8"/><path d="M479.2,1.8 V4.6 H482.3" fill="none" stroke="#909090" stroke-width="0.7"/>
<text x="473.6" y="10.6" style="font-family:'Liberation Serif',serif;font-style:italic;font-size:9px;fill:#606060">f</text>
<path d="M479,6.9 H483.2 V10.5 H486.8 V14.7 H483.2 V18.3 H479 V14.7 H475.4 V10.5 H479 Z" fill="#30d830" stroke="#109010" stroke-width="0.9"/>
<polygon points="493,8 498.4,8 495.7,11" fill="#000"/>
<circle cx="516.9" cy="9" r="6.8" fill="url(#gCloud)" stroke="url(#gClock)" stroke-width="2.8"/><path d="M516.9,9.3 V5.4 M516.6,9 H520" stroke="#202020" stroke-width="1.1" fill="none"/><g fill="#9090a0"><rect x="516.5" y="3.3" width="0.8" height="0.8"/><rect x="516.5" y="14" width="0.8" height="0.8"/><rect x="511.2" y="8.7" width="0.8" height="0.8"/><rect x="521.9" y="8.7" width="0.8" height="0.8"/></g>
<polygon points="531.7,8 537.1,8 534.4000000000001,11" fill="#000"/>
<rect x="548.4" y="2.4" width="15.4" height="13" fill="#fff" stroke="#3a78c8" stroke-width="0.9"/><rect x="548.4" y="2.4" width="15.4" height="2.2" fill="url(#gBlue)"/><line x1="548.4" y1="10.1" x2="563.8" y2="10.1" stroke="#5a90d8" stroke-width="0.9"/><path d="M550.3,8.4 H551.8 L553.6,7 H555 L556.6,7.6 H558.5 L560.2,6.5 H561.8" stroke="#a02810" stroke-width="1.1" fill="none"/><path d="M551,13.3 H552.6 L554,12.4 L555.5,13.3 L558.8,11.4 L561.4,13.7" stroke="#189018" stroke-width="1.1" fill="none"/>
<polygon points="571,8 576.4,8 573.7,11" fill="#000"/>
<rect x="582" y="0" width="1" height="21" fill="#a0a0a0" shape-rendering="crispEdges"/><rect x="583" y="0" width="1" height="21" fill="#fbfbfb" shape-rendering="crispEdges"/>
<rect x="586" y="1" width="3" height="1" fill="#b0b0b0" shape-rendering="crispEdges"/>
<rect x="586" y="3" width="3" height="1" fill="#b0b0b0" shape-rendering="crispEdges"/>
<rect x="586" y="5" width="3" height="1" fill="#b0b0b0" shape-rendering="crispEdges"/>
<rect x="586" y="7" width="3" height="1" fill="#b0b0b0" shape-rendering="crispEdges"/>
<rect x="586" y="9" width="3" height="1" fill="#b0b0b0" shape-rendering="crispEdges"/>
<rect x="586" y="11" width="3" height="1" fill="#b0b0b0" shape-rendering="crispEdges"/>
<rect x="586" y="13" width="3" height="1" fill="#b0b0b0" shape-rendering="crispEdges"/>
<rect x="586" y="15" width="3" height="1" fill="#b0b0b0" shape-rendering="crispEdges"/>
<rect x="586" y="17" width="3" height="1" fill="#b0b0b0" shape-rendering="crispEdges"/>
<rect x="592" y="0" width="1" height="21" fill="#a0a0a0" shape-rendering="crispEdges"/><rect x="593" y="0" width="1" height="21" fill="#fbfbfb" shape-rendering="crispEdges"/>
<rect x="593" y="0" width="24" height="19" fill="url(#chk)"/>
<polygon points="600.2,2.2 600.2,13.4 602.8,11.2 604.9,15.6 606.8,14.8 604.6,10.5 608.1,9.9" fill="#505050"/>
<g stroke="#404040" stroke-width="1.3"><path d="M625,9.4 H631.2 M633.8,9.4 H640 M632.5,2 V8.1 M632.5,10.7 V16.9"/></g><rect x="632.1" y="9" width="0.8" height="0.8" fill="#707070"/>
<rect x="649" y="0" width="1" height="21" fill="#a0a0a0" shape-rendering="crispEdges"/><rect x="650" y="0" width="1" height="21" fill="#fbfbfb" shape-rendering="crispEdges"/>
<g stroke="#404040" stroke-width="1.3" fill="none"><path d="M666.6,2.9 V15.9 M688.9,9.4 H701 M717,15.7 L728.9,4"/></g>
<g stroke="#383838" fill="none"><path d="M742.7,10.6 L750.8,3.1 M747.9,15.9 L757.1,7.4" stroke-width="0.9"/><path d="M745.2,15.6 L745.7,8.6 L748.4,12.6 L748.9,7.2 L751.5,10.5 L752,5.4 L754.7,7.9 L754.5,1.3" stroke-width="1.2" stroke-linejoin="round"/></g>
<text x="753.9" y="17.8" style="font-family:'Liberation Sans','Noto Sans CJK SC',sans-serif;font-size:6.6px;font-weight:bold;fill:#303030">E</text>
<rect x="772" y="2" width="1" height="1" fill="#383838" shape-rendering="crispEdges"/>
<rect x="774" y="2" width="1" height="1" fill="#383838" shape-rendering="crispEdges"/>
<rect x="776" y="2" width="1" height="1" fill="#383838" shape-rendering="crispEdges"/>
<rect x="778" y="2" width="1" height="1" fill="#383838" shape-rendering="crispEdges"/>
<rect x="780" y="2" width="1" height="1" fill="#383838" shape-rendering="crispEdges"/>
<rect x="782" y="2" width="1" height="1" fill="#383838" shape-rendering="crispEdges"/>
<rect x="784" y="2" width="1" height="1" fill="#383838" shape-rendering="crispEdges"/>
<rect x="772" y="5" width="1" height="1" fill="#383838" shape-rendering="crispEdges"/>
<rect x="774" y="5" width="1" height="1" fill="#383838" shape-rendering="crispEdges"/>
<rect x="776" y="5" width="1" height="1" fill="#383838" shape-rendering="crispEdges"/>
<rect x="778" y="5" width="1" height="1" fill="#383838" shape-rendering="crispEdges"/>
<rect x="780" y="5" width="1" height="1" fill="#383838" shape-rendering="crispEdges"/>
<rect x="782" y="5" width="1" height="1" fill="#383838" shape-rendering="crispEdges"/>
<rect x="784" y="5" width="1" height="1" fill="#383838" shape-rendering="crispEdges"/>
<rect x="772" y="9" width="1" height="1" fill="#383838" shape-rendering="crispEdges"/>
<rect x="774" y="9" width="1" height="1" fill="#383838" shape-rendering="crispEdges"/>
<rect x="776" y="9" width="1" height="1" fill="#383838" shape-rendering="crispEdges"/>
<rect x="778" y="9" width="1" height="1" fill="#383838" shape-rendering="crispEdges"/>
<rect x="780" y="9" width="1" height="1" fill="#383838" shape-rendering="crispEdges"/>
<rect x="782" y="9" width="1" height="1" fill="#383838" shape-rendering="crispEdges"/>
<rect x="784" y="9" width="1" height="1" fill="#383838" shape-rendering="crispEdges"/>
<rect x="772" y="13" width="1" height="1" fill="#383838" shape-rendering="crispEdges"/>
<rect x="774" y="13" width="1" height="1" fill="#383838" shape-rendering="crispEdges"/>
<rect x="776" y="13" width="1" height="1" fill="#383838" shape-rendering="crispEdges"/>
<rect x="778" y="13" width="1" height="1" fill="#383838" shape-rendering="crispEdges"/>
<rect x="780" y="13" width="1" height="1" fill="#383838" shape-rendering="crispEdges"/>
<text x="781.7" y="17.8" style="font-family:'Liberation Sans','Noto Sans CJK SC',sans-serif;font-size:6.6px;font-weight:bold;fill:#303030">F</text>
<text x="802.7" y="14" style="font-family:'Liberation Sans','Noto Sans CJK SC',sans-serif;font-size:11.6px;fill:#404040;stroke:#404040;stroke-width:0.3px">A</text>
<rect x="832" y="3" width="1" height="1" fill="#484848" shape-rendering="crispEdges"/>
<rect x="834" y="3" width="1" height="1" fill="#484848" shape-rendering="crispEdges"/>
<rect x="836" y="3" width="1" height="1" fill="#484848" shape-rendering="crispEdges"/>
<rect x="838" y="3" width="1" height="1" fill="#484848" shape-rendering="crispEdges"/>
<rect x="840" y="3" width="1" height="1" fill="#484848" shape-rendering="crispEdges"/>
<rect x="829" y="15" width="1" height="1" fill="#484848" shape-rendering="crispEdges"/>
<rect x="831" y="15" width="1" height="1" fill="#484848" shape-rendering="crispEdges"/>
<rect x="833" y="15" width="1" height="1" fill="#484848" shape-rendering="crispEdges"/>
<rect x="835" y="15" width="1" height="1" fill="#484848" shape-rendering="crispEdges"/>
<rect x="837" y="15" width="1" height="1" fill="#484848" shape-rendering="crispEdges"/>
<rect x="839" y="15" width="1" height="1" fill="#484848" shape-rendering="crispEdges"/>
<rect x="829" y="5" width="1" height="1" fill="#484848" shape-rendering="crispEdges"/>
<rect x="829" y="7" width="1" height="1" fill="#484848" shape-rendering="crispEdges"/>
<rect x="829" y="9" width="1" height="1" fill="#484848" shape-rendering="crispEdges"/>
<rect x="829" y="11" width="1" height="1" fill="#484848" shape-rendering="crispEdges"/>
<rect x="829" y="13" width="1" height="1" fill="#484848" shape-rendering="crispEdges"/>
<rect x="840" y="5" width="1" height="1" fill="#484848" shape-rendering="crispEdges"/>
<rect x="840" y="7" width="1" height="1" fill="#484848" shape-rendering="crispEdges"/>
<rect x="840" y="9" width="1" height="1" fill="#484848" shape-rendering="crispEdges"/>
<rect x="840" y="11" width="1" height="1" fill="#484848" shape-rendering="crispEdges"/>
<rect x="840" y="13" width="1" height="1" fill="#484848" shape-rendering="crispEdges"/>
<g shape-rendering="crispEdges" fill="#505050"><rect x="831" y="6" width="8" height="1"/><rect x="834" y="6" width="2" height="8"/><rect x="828" y="2" width="2" height="2"/><rect x="830" y="3" width="1" height="1"/></g>
<g shape-rendering="crispEdges" fill="#484848"><rect x="859" y="3" width="1" height="1"/><rect x="858" y="4" width="3" height="1"/><rect x="857" y="5" width="5" height="1"/><rect x="856" y="6" width="7" height="1"/><rect x="858" y="7" width="3" height="1"/><rect x="865" y="11" width="3" height="1"/><rect x="863" y="12" width="7" height="1"/><rect x="864" y="13" width="5" height="1"/><rect x="865" y="14" width="3" height="1"/><rect x="866" y="15" width="1" height="1"/></g>
<path d="M858.3,10.6 L860.5,12.4 L864.9,7.3" stroke="#484848" stroke-width="1.3" fill="none"/>
<polygon points="876.8,8 882.1999999999999,8 879.5,11" fill="#000"/>
<rect x="888" y="0" width="1" height="21" fill="#a0a0a0" shape-rendering="crispEdges"/><rect x="889" y="0" width="1" height="21" fill="#fbfbfb" shape-rendering="crispEdges"/>
<rect x="892" y="1" width="3" height="1" fill="#b0b0b0" shape-rendering="crispEdges"/>
<rect x="892" y="3" width="3" height="1" fill="#b0b0b0" shape-rendering="crispEdges"/>
<rect x="892" y="5" width="3" height="1" fill="#b0b0b0" shape-rendering="crispEdges"/>
<rect x="892" y="7" width="3" height="1" fill="#b0b0b0" shape-rendering="crispEdges"/>
<rect x="892" y="9" width="3" height="1" fill="#b0b0b0" shape-rendering="crispEdges"/>
<rect x="892" y="11" width="3" height="1" fill="#b0b0b0" shape-rendering="crispEdges"/>
<rect x="892" y="13" width="3" height="1" fill="#b0b0b0" shape-rendering="crispEdges"/>
<rect x="892" y="15" width="3" height="1" fill="#b0b0b0" shape-rendering="crispEdges"/>
<rect x="892" y="17" width="3" height="1" fill="#b0b0b0" shape-rendering="crispEdges"/>
<rect x="1038" y="0" width="1" height="21" fill="#a0a0a0" shape-rendering="crispEdges"/><rect x="1039" y="0" width="1" height="21" fill="#fbfbfb" shape-rendering="crispEdges"/>
<rect x="1039" y="0" width="24.5" height="19" fill="url(#chk)"/>
<text transform="translate(903.6,12.9) scale(0.86,1)" style="font-family:'Liberation Sans','Noto Sans CJK SC',sans-serif;font-size:10.2px;fill:#303030;stroke:#303030;stroke-width:0.15px">M1</text>
<text transform="translate(931.6,12.9) scale(0.86,1)" style="font-family:'Liberation Sans','Noto Sans CJK SC',sans-serif;font-size:10.2px;fill:#303030;stroke:#303030;stroke-width:0.15px">M5</text>
<text transform="translate(957.2,12.9) scale(0.86,1)" style="font-family:'Liberation Sans','Noto Sans CJK SC',sans-serif;font-size:10.2px;fill:#303030;stroke:#303030;stroke-width:0.15px">M15</text>
<text transform="translate(985.4,12.9) scale(0.86,1)" style="font-family:'Liberation Sans','Noto Sans CJK SC',sans-serif;font-size:10.2px;fill:#303030;stroke:#303030;stroke-width:0.15px">M30</text>
<text transform="translate(1016.2,12.9) scale(0.86,1)" style="font-family:'Liberation Sans','Noto Sans CJK SC',sans-serif;font-size:10.2px;fill:#303030;stroke:#303030;stroke-width:0.15px">H1</text>
<text transform="translate(1043.3,12.9) scale(0.86,1)" style="font-family:'Liberation Sans','Noto Sans CJK SC',sans-serif;font-size:10.2px;fill:#303030;stroke:#303030;stroke-width:0.15px">H4</text>
<text transform="translate(1072.6,12.9) scale(0.86,1)" style="font-family:'Liberation Sans','Noto Sans CJK SC',sans-serif;font-size:10.2px;fill:#303030;stroke:#303030;stroke-width:0.15px">D1</text>
<text transform="translate(1100,12.9) scale(0.86,1)" style="font-family:'Liberation Sans','Noto Sans CJK SC',sans-serif;font-size:10.2px;fill:#303030;stroke:#303030;stroke-width:0.15px">W1</text>
<text transform="translate(1126.7,12.9) scale(0.86,1)" style="font-family:'Liberation Sans','Noto Sans CJK SC',sans-serif;font-size:10.2px;fill:#303030;stroke:#303030;stroke-width:0.15px">MN</text>
<rect x="1149" y="0" width="1" height="21" fill="#a0a0a0" shape-rendering="crispEdges"/><rect x="1150" y="0" width="1" height="21" fill="#fbfbfb" shape-rendering="crispEdges"/>
<line x1="1616.7" y1="9.6" x2="1612.4" y2="13.8" stroke="#2060d8" stroke-width="2.6" stroke-linecap="round"/><circle cx="1619.5" cy="6.5" r="3.9" fill="#eeeeff" stroke="#2458d4" stroke-width="1.3"/>
<path d="M1636.4,11.2 a5.6,4 0 1 1 5,4 l-1.9,2.6 l-0.4,-2.9 a5.6,4 0 0 1 -2.7,-3.7 z" fill="url(#gBub)" stroke="#b4b4b8" stroke-width="0.8"/>
<circle cx="1650.4" cy="6.8" r="8.3" fill="url(#gRed)"/>
<text x="1646.3" y="11" style="font-family:'Liberation Sans','Noto Sans CJK SC',sans-serif;font-size:12.5px;fill:#fff;stroke:#fff;stroke-width:0.5px">1</text></g></svg></body></html>
